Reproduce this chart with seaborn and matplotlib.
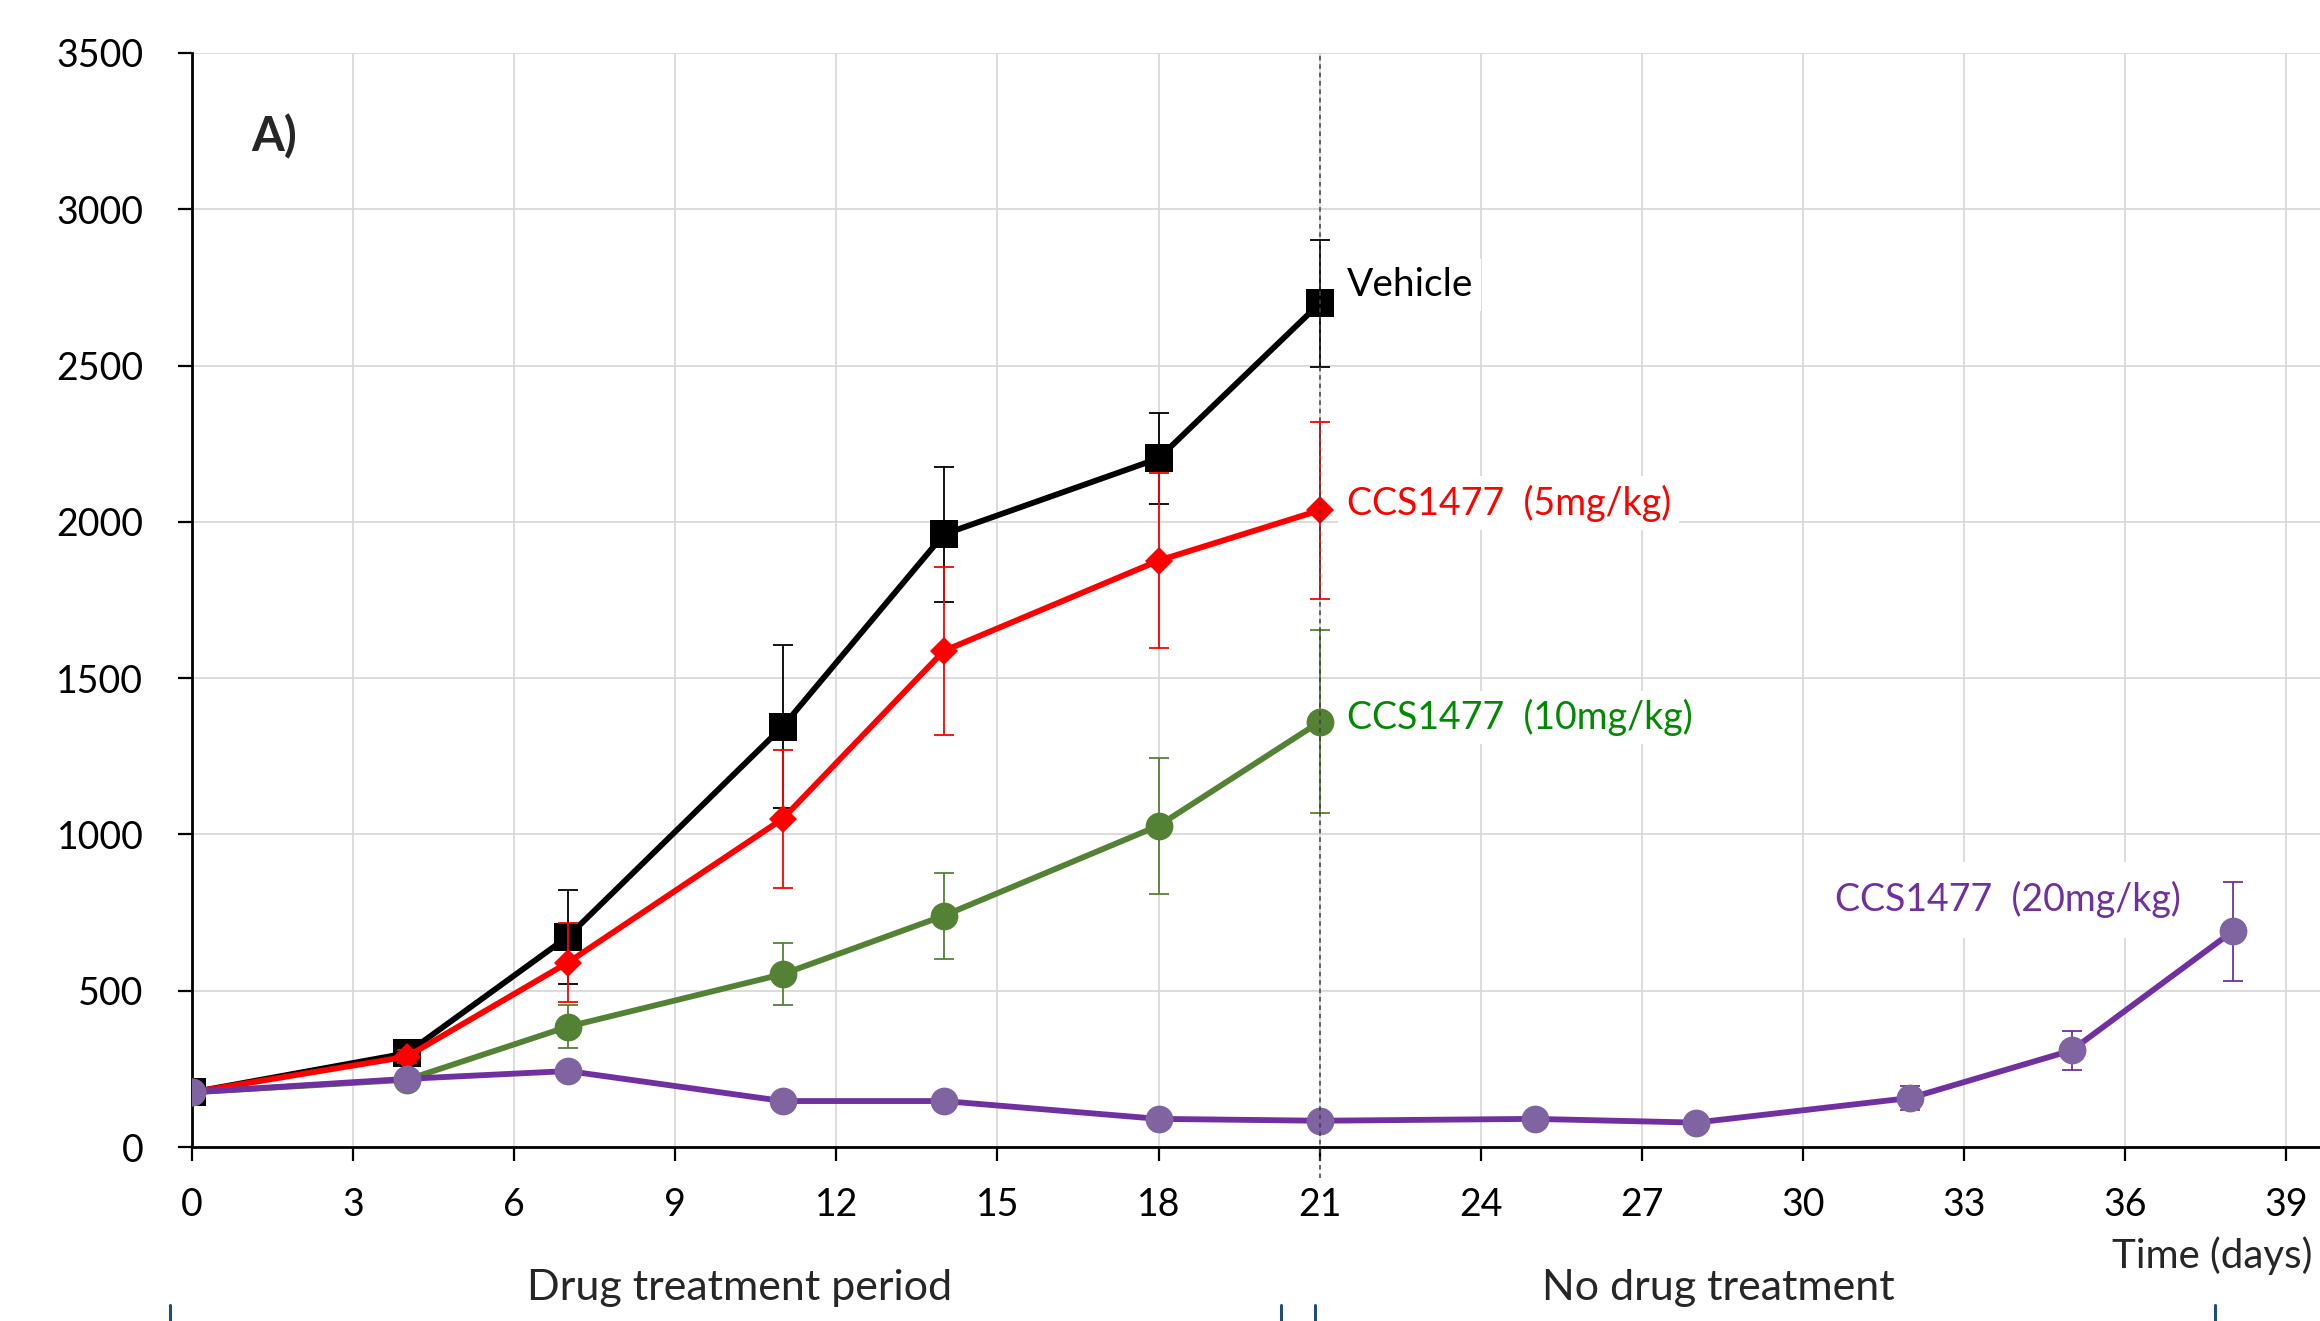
import matplotlib
matplotlib.use("Agg")
import matplotlib.pyplot as plt
import seaborn as sns
import numpy as np
import pandas as pd
from matplotlib.lines import Line2D

# ---------------- data ----------------
days_treat = [0, 4, 7, 11, 14, 18, 21]
vehicle = [175, 300, 673, 1345, 1960, 2203, 2699]
vehicle_err = [15, 20, 150, 262, 215, 145, 202]
ccs5 = [175, 289, 590, 1050, 1587, 1876, 2037]
ccs5_err = [10, 20, 127, 220, 270, 280, 283]
ccs10 = [175, 215, 385, 553, 740, 1028, 1360]
ccs10_err = [10, 15, 68, 100, 138, 218, 293]
days_20 = [0, 4, 7, 11, 14, 18, 21, 25, 28, 32, 35, 38]
ccs20 = [175, 218, 243, 147, 147, 90, 84, 90, 78, 157, 309, 690]
ccs20_err = [10, 10, 10, 10, 10, 10, 10, 10, 10, 38, 62, 158]

x_ticks = list(range(0, 40, 3))
y_ticks = list(range(0, 3501, 500))

series_labels = ["Vehicle", "CCS1477  (5mg/kg)", "CCS1477  (10mg/kg)", "CCS1477  (20mg/kg)"]

# ---------------- style ----------------
sns.set_theme(style="whitegrid")
plt.rcParams['font.family'] = ['Lato', 'DejaVu Sans']

W, H = 2320, 1321
fig = plt.figure(figsize=(W / 100, H / 100), dpi=100)
left_px, right_px, top_px, bot_px = 192, 2320, 53, 1147
ax = fig.add_axes([left_px / W, 1 - bot_px / H, (right_px - left_px) / W, (bot_px - top_px) / H])

day_px = 53.7
ax.set_xlim(0, (right_px - left_px) / day_px)
ax.set_ylim(0, 3500)

c_black = "#000000"
c_red = "#FF0000"
c_green = "#548235"
c_green_txt = "#008A00"
c_purple = "#7030A0"
c_purple_mk = "#8064A2"

specs = [
    (days_treat, vehicle, vehicle_err, c_black, c_black, "s", 20),
    (days_treat, ccs5, ccs5_err, c_red, c_red, "D", 14.5),
    (days_treat, ccs10, ccs10_err, c_green, c_green, "o", 20),
    (days_20, ccs20, ccs20_err, c_purple, c_purple_mk, "o", 20),
]

for i, (xs, ys, es, lc, mc, mk, ms) in enumerate(specs):
    df = pd.DataFrame({"day": xs, "vol": ys})
    ax.errorbar(xs, ys, yerr=es, fmt="none", ecolor=lc, elinewidth=1.3,
                capsize=7, capthick=1.3, zorder=3 + i)
    sns.lineplot(data=df, x="day", y="vol", ax=ax, color=lc, linewidth=4.2,
                 marker=mk, markersize=ms, markerfacecolor=mc,
                 markeredgecolor=mc, markeredgewidth=0, zorder=3 + i)

# dashed vertical line at day 21
ax.axvline(21, ymin=-0.028, ymax=1, color="#404040", linestyle=(0, (3, 2.5)),
           linewidth=1.1, zorder=10, clip_on=False)

# axes styling
ax.set_xticks(x_ticks)
ax.set_yticks(y_ticks)
ax.grid(True, color="#D9D9D9", linewidth=1.3)
ax.set_axisbelow(True)
for s in ["top", "right"]:
    ax.spines[s].set_visible(False)
for s in ["left", "bottom"]:
    ax.spines[s].set_color("black")
    ax.spines[s].set_linewidth(2.0)
ax.tick_params(axis="both", which="major", direction="out", length=10, width=1.6,
               color="black", labelsize=27, labelcolor="black")
ax.tick_params(axis="y", pad=25)
ax.tick_params(axis="x", pad=19)
ax.set_xlabel("")
ax.set_ylabel("")
ax.xaxis.set_tick_params(bottom=True)
ax.yaxis.set_tick_params(left=True)

# series labels
bbox = dict(facecolor="white", edgecolor="none", pad=6)
ax.text(21.5, 2757, series_labels[0], color=c_black, fontsize=28, va="center", ha="left", bbox=bbox, zorder=11)
ax.text(21.5, 2060, series_labels[1], color=c_red, fontsize=27, va="center", ha="left", bbox=bbox, zorder=11)
ax.text(21.5, 1374, series_labels[2], color=c_green_txt, fontsize=27, va="center", ha="left", bbox=bbox, zorder=11)
ax.text(30.6, 791, series_labels[3], color=c_purple, fontsize=27, va="center", ha="left",
        bbox=dict(facecolor="white", edgecolor="none", pad=14), zorder=11)

# panel letter
fig.text(274 / W, 1 - 137 / H, "A)", fontsize=34, fontweight="bold", ha="center", va="center")

# bottom annotations
fig.text(2312 / W, 1 - 1256 / H, "Time (days)", fontsize=29, ha="right", va="center")
fig.text(740 / W, 1 - 1288 / H, "Drug treatment period", fontsize=31, ha="center", va="center")
fig.text(1718 / W, 1 - 1288 / H, "No drug treatment", fontsize=31, ha="center", va="center")
for xp in [170, 1281, 1315, 2215]:
    fig.add_artist(Line2D([xp / W, xp / W], [0, 16 / H], color="#1F4E79", linewidth=2.2))

fig.savefig("out.png", dpi=100, facecolor="white")
